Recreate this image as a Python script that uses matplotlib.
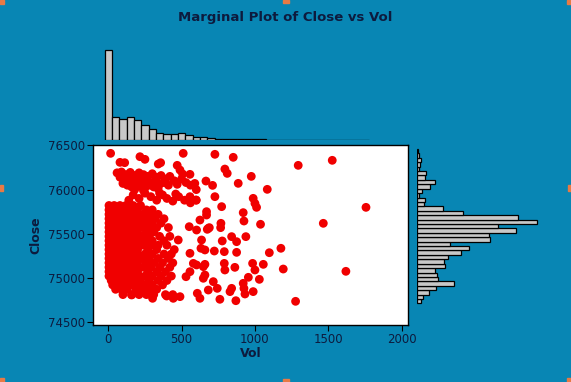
import matplotlib
matplotlib.use("Agg")
import matplotlib.pyplot as plt
from matplotlib.patches import Rectangle

# ---------------- data ----------------
# sparse scatter points (Vol, Close)
sparse_vol = [16, 80, 112, 216, 250, 357, 341, 511, 727, 852, 1295, 1527, 470, 489, 507, 557,
              795, 811, 975, 666, 711, 886, 1084,
              727, 773, 988, 1000, 1011, 920, 925, 1038, 768, 766, 1466, 1757, 689, 675, 841,
              875, 938, 777, 636, 791, 875, 723, 1098, 1177, 984, 1057, 791, 795, 863, 1193,
              1620, 1000, 955, 1030, 920, 925, 932, 988, 841, 830, 761, 870, 743, 682, 716,
              1277, 625, 607, 489, 443, 398, 302, 159, 648, 659, 648, 659, 580, 602, 557, 530,
              557, 632, 659, 682, 670, 625, 602, 552, 598, 557, 670, 477]
sparse_close = [76411, 76309, 76305, 76373, 76343, 76305, 76290, 76411, 76400, 76366, 76275, 76332,
                76275, 76222, 76177, 76173, 76233, 76184, 76150, 76097, 76048, 76071, 76003,
                75920, 75807, 75901, 75844, 75799, 75739, 75644, 75607, 75618, 75569, 75618,
                75799, 75569, 75550, 75467, 75410, 75467, 75418, 75429, 75297, 75289, 75304,
                75285, 75335, 75164, 75153, 75164, 75089, 75119, 75100, 75074, 75089, 75006,
                74983, 74938, 74881, 74817, 74844, 74881, 74844, 74757, 74741, 74881, 74862,
                74957, 74734, 74768, 74825, 74787, 74768, 74794, 74768, 74806, 74995, 75032,
                75127, 75153, 75164, 75146, 75070, 75013, 75278, 75335, 75316, 75561, 75712,
                75655, 75542, 75580, 75882, 75920, 75750, 75429]

# upper cluster and middle band (Vol, Close)
cluster_vol = [60, 90, 120, 150, 180, 210, 240, 270, 300, 330, 360, 390, 420, 80, 110, 140, 170,
               200, 230, 260, 290, 320, 350, 380, 410, 100, 130, 160, 190, 220, 250, 280, 310,
               340, 450, 470, 500, 530, 560, 590, 600, 240, 180,
               170, 210, 250, 290, 330, 370, 400, 440, 480, 520, 560, 600, 140, 350, 460]
cluster_close = [76190, 76200, 76170, 76195, 76160, 76190, 76170, 76150, 76180, 76140, 76160,
                 76120, 76150, 76140, 76110, 76130, 76100, 76120, 76090, 76110, 76080, 76100,
                 76060, 76080, 76050, 76070, 76050, 76030, 76060, 76040, 76020, 76050, 76030,
                 76010, 76100, 76060, 76120, 76080, 76050, 76070, 76000, 75990, 76000,
                 75940, 75900, 75960, 75920, 75880, 75940, 75900, 75870, 75920, 75880, 75850,
                 75880, 75880, 75960, 75950]

# dense low-volume mass: Close level -> Vol values
dense_rows = {
    75820: [5, 40, 80, 120, 170, 220],
    75770: [5, 30, 60, 95, 130, 165, 200, 260, 300],
    75720: [5, 30, 60, 95, 130, 165, 200, 240, 290, 340],
    75670: [5, 30, 60, 95, 130, 165, 200, 235, 270, 320, 380],
    75620: [5, 30, 60, 95, 130, 165, 200, 250, 300, 360],
    75570: [5, 30, 60, 95, 130, 165, 200, 240, 280, 330, 410],
    75520: [5, 30, 60, 95, 130, 165, 200, 260, 310],
    75470: [5, 30, 60, 95, 130, 165, 200, 230, 280, 350, 420],
    75420: [5, 30, 60, 95, 130, 165, 200, 250, 300, 380],
    75370: [5, 30, 60, 95, 130, 165, 200, 240, 290, 340, 400],
    75320: [5, 30, 60, 95, 130, 165, 200, 270, 330, 450],
    75270: [5, 30, 60, 95, 130, 165, 200, 250, 300, 380, 430],
    75220: [5, 30, 60, 95, 130, 165, 200, 230, 280, 340, 410],
    75170: [5, 30, 60, 95, 130, 165, 200, 260, 310, 370, 440],
    75120: [5, 30, 60, 95, 130, 165, 200, 240, 290, 350, 420],
    75070: [5, 30, 60, 95, 130, 165, 200, 270, 330, 390],
    75020: [5, 30, 60, 95, 130, 165, 210, 250, 300, 360, 430],
    74970: [20, 60, 100, 140, 180, 220, 280, 340, 400],
    74920: [30, 70, 110, 150, 200, 250, 300, 370],
    74870: [50, 90, 130, 190, 230, 280, 330],
    74810: [100, 160, 210, 260, 310, 390, 440],
}

# marginal histogram of Vol (bin centres, counts)
vol_bin_centers = [0, 50, 100, 150, 200, 250, 300, 350, 400, 450, 500, 550, 600, 650, 700, 750,
                   800, 850, 900, 950, 1000, 1050, 1100, 1150, 1200, 1250, 1300, 1350, 1400,
                   1450, 1500, 1550, 1600, 1650, 1700, 1750]
vol_counts = [269, 68, 62, 68, 60, 44, 32, 20, 19, 17, 20, 14, 10, 8, 5, 3, 3, 2, 3, 2, 2, 3, 1,
              0, 0, 1, 1, 1, 0, 0, 1, 1, 0, 0, 0, 1]

# marginal histogram of Close (bin lower edges ascending, counts)
close_bin_edges = [74710, 74760, 74810, 74860, 74910, 74960, 75010, 75060, 75110, 75160, 75210,
                   75260, 75310, 75360, 75410, 75460, 75510, 75560, 75610, 75660, 75710, 75760,
                   75810, 75860, 75910, 75960, 76010, 76060, 76110, 76160, 76210, 76260, 76310,
                   76360, 76410]
close_counts = [4, 6, 12, 19, 37, 21, 20, 18, 28, 27, 31, 44, 52, 33, 73, 72, 99, 81, 120, 101,
                46, 26, 7, 8, 2, 5, 13, 18, 8, 9, 2, 3, 4, 2, 1]

x_ticks = [0, 500, 1000, 1500, 2000]
y_ticks = [74500, 75000, 75500, 76000, 76500]

# ---------------- figure ----------------
W, H = 571, 382
BG = "#0886B4"
TXT = "#0D1B3E"
fig = plt.figure(figsize=(W / 100, H / 100), dpi=100, facecolor=BG)

def ax_px(x0, y0, x1, y1):
    return [x0 / W, 1 - y1 / H, (x1 - x0) / W, (y1 - y0) / H]

xlim = (-102, 2040)
ylim = (74469, 76509)

ax = fig.add_axes(ax_px(93.3, 144.7, 407.5, 324.7))
ax.set_facecolor("white")
all_vol = list(sparse_vol) + list(cluster_vol)
all_close = list(sparse_close) + list(cluster_close)
for c, vs in dense_rows.items():
    all_vol += vs
    all_close += [c] * len(vs)
ax.scatter(all_vol, all_close, s=40, color="#F00000", edgecolors="none", zorder=3)
ax.set_xlim(*xlim)
ax.set_ylim(*ylim)
ax.set_xticks(x_ticks)
ax.set_yticks(y_ticks)
ax.tick_params(axis="both", direction="out", length=4, width=0.8, color="#000000",
               labelsize=8.5, labelcolor=TXT, pad=2)
for sp in ax.spines.values():
    sp.set_color("black")
    sp.set_linewidth(1.0)
ax.set_xlabel("Vol", fontsize=9, fontweight="bold", color=TXT, labelpad=1)
ax.set_ylabel("Close", fontsize=9, fontweight="bold", color=TXT, labelpad=4)

# top marginal histogram
axt = fig.add_axes(ax_px(93.3, 45, 407.5, 140))
axt.bar(vol_bin_centers, vol_counts, width=50, color="#C8C8C8", edgecolor="black",
        linewidth=0.9, align="center")
axt.set_xlim(*xlim)
axt.set_ylim(0, 285)
axt.axis("off")

# right marginal histogram
axr = fig.add_axes(ax_px(416.7, 144.7, 545, 324.7))
axr.barh(close_bin_edges, close_counts, height=50, color="#C8C8C8", edgecolor="black",
         linewidth=0.9, align="edge")
axr.set_ylim(*ylim)
axr.set_xlim(0, 128.3)
axr.axis("off")

fig.text(285.5 / W, 1 - 17 / H, "Marginal Plot of Close vs Vol", ha="center", va="center",
         fontsize=9.5, fontweight="bold", color=TXT)

# selection handles
ORG = "#E87A45"
for (x0, y0, w, h) in [(0, 0, 4, 4), (283, 0, 6, 3), (567, 0, 4, 4), (0, 185, 3, 6),
                       (568, 185, 3, 6), (0, 378, 4, 4), (283, 379, 6, 3), (567, 378, 4, 4)]:
    fig.patches.append(Rectangle((x0 / W, 1 - (y0 + h) / H), w / W, h / H,
                                 transform=fig.transFigure, color=ORG, zorder=10))

fig.savefig("out.png", dpi=100, facecolor=BG)
